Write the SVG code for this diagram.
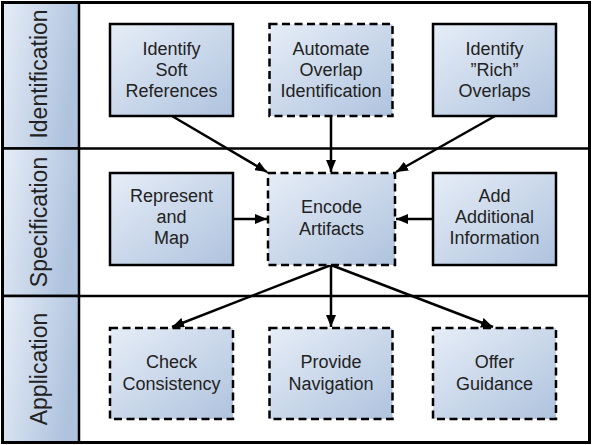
<svg xmlns="http://www.w3.org/2000/svg" width="592" height="445" viewBox="0 0 592 445">
<defs>
<linearGradient id="boxg" x1="0" y1="0" x2="1" y2="1">
<stop offset="0" stop-color="#e6edf7"/>
<stop offset="1" stop-color="#afc3de"/>
</linearGradient>
<linearGradient id="laneg" x1="0" y1="0" x2="1" y2="0.3">
<stop offset="0" stop-color="#e6edf7"/>
<stop offset="1" stop-color="#afc3de"/>
</linearGradient>
<marker id="arr" viewBox="0 0 12 10" refX="12" refY="5" markerWidth="12" markerHeight="10" markerUnits="userSpaceOnUse" orient="auto">
<path d="M0,0 L12,5 L0,10 Z" fill="#000"/>
</marker>
<style>
.box{fill:url(#boxg);stroke:#000;stroke-width:2.5}
.dash{stroke-dasharray:8 4.5}
.lane{fill:url(#laneg);stroke:#000;stroke-width:2.5}
.t{font-family:"Liberation Sans",Arial,sans-serif;font-size:18px;fill:#222;text-anchor:middle}
.lt{font-family:"Liberation Sans",Arial,sans-serif;font-size:23px;fill:#222;text-anchor:middle}
.c{stroke:#000;stroke-width:2.5;fill:none;marker-end:url(#arr)}
</style>
</defs>
<rect x="0" y="0" width="592" height="445" fill="#fff"/>
<g id="lanes">
<rect class="lane" x="2.5" y="2.5" width="76.5" height="146"/>
<rect class="lane" x="2.5" y="148.5" width="76.5" height="147.5"/>
<rect class="lane" x="2.5" y="296" width="76.5" height="146.5"/>
<text class="lt" transform="translate(47,74) rotate(-90)">Identification</text>
<text class="lt" transform="translate(47,222) rotate(-90)">Specification</text>
<text class="lt" transform="translate(47,369) rotate(-90)">Application</text>
<rect x="2.5" y="2.5" width="587" height="440" fill="none" stroke="#000" stroke-width="3"/>
<line x1="79" y1="148.5" x2="589.5" y2="148.5" stroke="#000" stroke-width="2.5"/>
<line x1="79" y1="296" x2="589.5" y2="296" stroke="#000" stroke-width="2.5"/>
</g>
<g id="connectors">
<line class="c" x1="172" y1="116" x2="267" y2="172"/>
<line class="c" x1="331" y1="116" x2="331" y2="172"/>
<line class="c" x1="495" y1="116" x2="396" y2="172"/>
<line class="c" x1="233" y1="219" x2="267" y2="219"/>
<line class="c" x1="432" y1="219" x2="396" y2="219"/>
<line class="c" x1="331" y1="265" x2="172" y2="327"/>
<line class="c" x1="331" y1="265" x2="331" y2="327"/>
<line class="c" x1="331" y1="265" x2="493" y2="327"/>
</g>
<g id="n1">
<rect class="box" x="110" y="24" width="123" height="92"/>
<text class="t" x="171.5" y="55">Identify</text>
<text class="t" x="171.5" y="76">Soft</text>
<text class="t" x="171.5" y="97">References</text>
</g>
<g id="n2">
<rect class="box dash" x="269.5" y="24" width="123" height="92"/>
<text class="t" x="331" y="55">Automate</text>
<text class="t" x="331" y="76">Overlap</text>
<text class="t" x="331" y="97">Identification</text>
</g>
<g id="n3">
<rect class="box" x="433" y="24" width="123" height="92"/>
<text class="t" x="494.5" y="55">Identify</text>
<text class="t" x="494.5" y="76">”Rich”</text>
<text class="t" x="494.5" y="97">Overlaps</text>
</g>
<g id="n4">
<rect class="box" x="110" y="173" width="123" height="92"/>
<text class="t" x="171.5" y="202">Represent</text>
<text class="t" x="171.5" y="223">and</text>
<text class="t" x="171.5" y="244">Map</text>
</g>
<g id="n5">
<rect class="box dash" x="268" y="173" width="127" height="92"/>
<text class="t" x="331.5" y="213">Encode</text>
<text class="t" x="331.5" y="235">Artifacts</text>
</g>
<g id="n6">
<rect class="box" x="433" y="173" width="123" height="92"/>
<text class="t" x="494.5" y="202">Add</text>
<text class="t" x="494.5" y="223">Additional</text>
<text class="t" x="494.5" y="244">Information</text>
</g>
<g id="n7">
<rect class="box dash" x="110" y="328" width="123" height="91"/>
<text class="t" x="171.5" y="368">Check</text>
<text class="t" x="171.5" y="390">Consistency</text>
</g>
<g id="n8">
<rect class="box dash" x="269.5" y="328" width="123" height="91"/>
<text class="t" x="331" y="368">Provide</text>
<text class="t" x="331" y="390">Navigation</text>
</g>
<g id="n9">
<rect class="box dash" x="433" y="328" width="123" height="91"/>
<text class="t" x="494.5" y="368">Offer</text>
<text class="t" x="494.5" y="390">Guidance</text>
</g>
</svg>
